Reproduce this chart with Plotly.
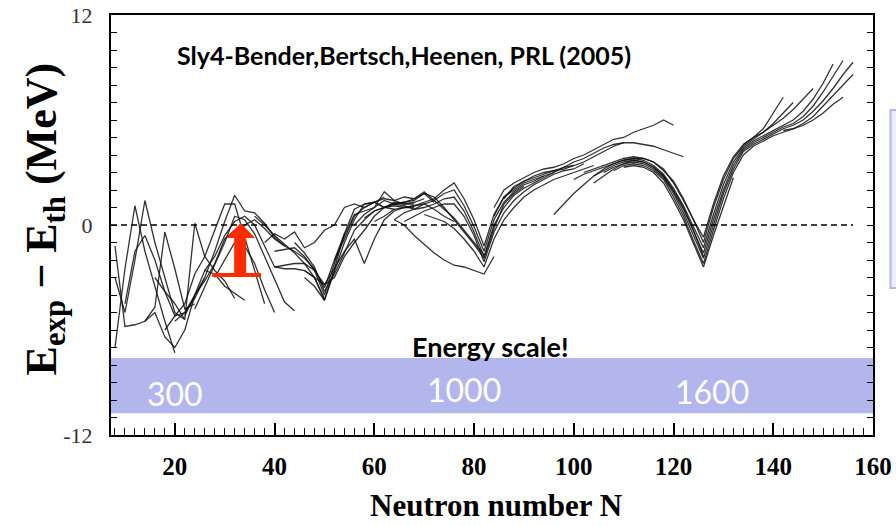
import plotly.graph_objects as go

# ---- data: E_exp - E_th (MeV) along isotopic chains vs neutron number N ----
light_chains = [
    ([8, 10, 12, 14, 16, 18, 20], [-7.0, -2.5, 1.1, -1.5, -3.5, -5.5, -7.3]),
    ([8, 10, 12, 14, 16, 18, 20, 22], [-3.0, -5.0, -2.0, 1.4, -1.0, -3.0, -5.0, -5.4]),
    ([8, 10, 12, 14, 16, 18, 20, 22, 24], [-1.2, -5.8, -5.7, -5.5, -4.7, -0.4, -2.5, -4.8, -4.5]),
    ([10, 12, 14, 16, 18, 20, 22, 24, 26], [-4.5, -1.5, -0.6, -2.0, -3.8, -5.2, -5.0, -4.0, -3.0]),
    ([16, 18, 20, 22, 24, 26, 28, 30, 32], [-3.0, -3.8, -4.5, -5.4, 0.1, -1.8, -2.6, -3.2, -4.2]),
    ([14, 16, 18, 20, 22, 24, 26, 28, 30, 32, 34], [-5.5, -5.0, -6.4, -7.0, -6.0, -4.0, -2.6, -2.8, -3.5, -3.9, -4.3]),
    ([18, 20, 22, 24, 26, 28, 30, 32, 34, 36, 38], [-6.0, -5.2, -4.5, -2.8, -1.8, -0.3, 1.2, 1.2, -0.7, -2.6, -4.5]),
    ([20, 22, 24, 26, 28, 30, 32, 34, 36, 38, 40, 42], [-5.5, -5.0, -4.2, -3.0, -1.5, 0.2, 1.7, 0.8, 0.7, 0.1, -0.7, -1.2]),
    ([22, 24, 26, 28, 30, 32, 34, 36, 38, 40], [-5.2, -4.0, -3.2, -2.2, -0.8, -0.3, -1.2, -2.2, -3.7, -5.0]),
    ([24, 26, 28, 30, 32, 34, 36, 38, 40, 42, 44], [-4.8, -3.5, -2.2, -1.0, 0.5, 0.3, -0.5, -1.8, -3.2, -4.4, -4.9]),
    ([26, 28, 30, 32, 34, 36, 38, 40, 42, 44, 46, 48, 50], [-2.6, -1.8, -0.6, 0.2, 0.5, 0.0, -1.2, -2.4, -2.5, -2.5, -2.6, -3.0, -4.2]),
    ([28, 30, 32, 34, 36, 38, 40, 42, 44, 46, 48, 50, 52, 54], [-3.0, -2.0, -1.0, 0.0, 0.3, -0.2, -0.8, -1.2, -1.5, -1.9, -2.5, -3.6, -2.0, -0.5]),
]

medium_chains = [
    ([36, 38, 40, 42, 44, 46, 48, 50, 52, 54, 56, 58, 60, 62, 64], [0.5, 0.0, -0.6, -1.1, -1.6, -2.2, -3.0, -4.3, -2.6, -1.0, 0.3, 1.2, 1.3, 1.0, 0.9]),
    ([40, 42, 44, 46, 48, 50, 52, 54, 56, 58, 60, 62, 64, 66, 68], [-1.5, -1.4, -1.3, -1.8, -2.6, -4.0, -2.2, -0.6, 0.6, 0.8, 1.0, 1.9, 1.4, 1.2, 1.2]),
    ([44, 46, 48, 50, 52, 54, 56, 58, 60, 62, 64, 66, 68, 70, 72], [-1.0, -1.6, -2.4, -3.8, -2.8, -1.6, -0.3, 0.3, 0.8, 1.0, 1.2, 1.3, 1.4, 1.8, 1.3]),
    ([46, 48, 50, 52, 54, 56, 58, 60, 62, 64, 66, 68], [-2.6, -3.0, -3.4, -2.5, -1.5, -0.8, -2.2, -0.8, 0.3, 0.8, 1.0, 1.0]),
    ([38, 40, 42, 44, 46, 48, 50, 52, 54, 56, 58, 60, 62], [-1.0, -0.5, -0.8, -0.4, -1.3, -1.0, -0.3, 0.0, 1.0, 1.2, 1.0, 1.3, 1.6]),
    ([40, 42, 44, 46, 48, 50, 52, 54, 56, 58, 60, 62, 64, 66, 68, 70], [-2.4, -2.3, -2.2, -2.2, -2.6, -3.4, -3.0, -1.8, -1.0, -0.3, 0.5, 1.0, 1.3, 1.2, 1.3, 1.5]),
]

n82_chains = [
    ([56, 58, 60, 62, 64, 66, 68, 70, 72, 74, 76, 78, 80, 82, 84, 86, 88, 90], [0.0, 0.6, 1.0, 1.4, 1.2, 1.3, 1.5, 1.8, 1.6, 1.0, 0.3, -0.4, -1.1, -1.9, -0.2, 1.2, 1.8, 2.2]),
    ([58, 60, 62, 64, 66, 68, 70, 72, 74, 76, 78, 80, 82, 84, 86, 88, 90, 92, 94], [0.4, 0.8, 1.0, 1.1, 1.0, 1.1, 1.3, 1.5, 2.0, 2.4, 1.5, 0.3, -1.2, 0.6, 1.6, 2.0, 2.4, 2.6, 2.8]),
    ([60, 62, 64, 66, 68, 70, 72, 74, 76, 78, 80, 82, 84, 86, 88, 90, 92, 94, 96], [0.2, 0.5, 0.9, 1.0, 1.1, 1.2, 1.4, 1.8, 2.0, 1.1, -0.1, -1.5, 0.3, 1.3, 1.9, 2.3, 2.5, 2.8, 3.0]),
    ([64, 66, 68, 70, 72, 74, 76, 78, 80, 82, 84, 86, 88, 90, 92, 94, 96, 98, 100], [0.3, 0.7, 0.9, 1.0, 1.2, 1.5, 1.6, 0.8, -0.4, -1.8, 0.0, 1.0, 1.7, 2.1, 2.4, 2.7, 3.0, 3.3, 3.4]),
    ([66, 68, 70, 72, 74, 76, 78, 80, 82, 84, 86, 88, 90, 92, 94, 96, 98, 100, 102], [0.2, 0.5, 0.8, 1.0, 1.2, 1.2, 0.5, -0.6, -2.1, -0.4, 0.7, 1.4, 1.9, 2.3, 2.6, 2.9, 3.1, 3.2, 3.5]),
    ([64, 66, 68, 70, 72, 74, 76, 78, 80, 82, 84], [0.3, 0.0, -0.6, -1.1, -1.6, -2.0, -2.3, -2.4, -2.6, -2.8, -1.8]),
    ([70, 72, 74, 76, 78, 80, 82, 84, 86, 88, 90, 92, 94, 96, 98, 100, 102, 104], [0.6, 0.4, 0.2, -0.2, -0.8, -1.5, -2.4, -0.8, 0.3, 1.0, 1.6, 2.0, 2.3, 2.6, 2.8, 3.0, 3.2, 3.4]),
    ([52, 54, 56, 58, 60, 62, 64, 66, 68, 70, 72, 74, 76, 78, 80, 82], [-2.0, -0.8, 0.5, 1.0, 1.3, 1.5, 1.4, 1.6, 1.5, 1.9, 1.4, 0.9, 0.4, -0.3, -1.0, -1.7]),
    ([46, 48, 50, 52, 54, 56, 58, 60, 62, 64, 66, 68, 70, 72, 74, 76], [-3.0, -3.5, -4.3, -2.5, -0.5, 0.9, 1.2, 1.3, 1.0, 1.2, 1.1, 0.9, 1.2, 0.9, 0.5, 0.2]),
]

upper_chains = [
    ([84, 86, 88, 90, 92, 94, 96, 98, 100, 102, 104, 106, 108, 110, 112, 114, 116, 118, 120], [1.0, 2.0, 2.4, 2.7, 3.0, 3.2, 3.3, 3.5, 3.8, 4.0, 4.3, 4.6, 4.9, 5.0, 5.3, 5.5, 5.7, 6.0, 5.7]),
    ([86, 88, 90, 92, 94, 96, 98, 100, 102, 104, 106, 108, 110, 112, 114, 116, 118, 120, 122], [1.5, 2.2, 2.5, 2.8, 3.0, 3.1, 3.3, 3.6, 3.8, 4.1, 4.4, 4.6, 4.7, 4.7, 4.6, 4.5, 4.3, 4.1, 3.9]),
    ([84, 86, 88, 90, 92, 94, 96, 98, 100, 102, 104, 106, 108, 110], [0.5, 1.6, 2.1, 2.5, 2.7, 2.9, 3.1, 3.2, 3.4, 3.6, 3.9, 4.2, 4.5, 4.7]),
    ([96, 98, 100, 102, 104, 106, 108, 110, 112, 114, 116, 118, 120, 122, 124, 126], [0.6, 1.2, 1.8, 2.3, 2.8, 3.1, 3.4, 3.6, 3.7, 3.6, 3.3, 2.8, 2.0, 1.0, -0.3, -1.8]),
]

n126_chains = [
    ([102, 104, 106, 108, 110, 112, 114, 116, 118, 120, 122, 124, 126, 128, 130, 132, 134, 136, 138, 140, 142], [3.0, 3.2, 3.4, 3.6, 3.8, 3.9, 3.8, 3.6, 3.2, 2.4, 1.4, 0.3, -0.7, 1.2, 2.8, 3.9, 4.6, 5.0, 5.5, 6.4, 7.3]),
    ([104, 106, 108, 110, 112, 114, 116, 118, 120, 122, 124, 126, 128, 130, 132, 134, 136, 138, 140, 142, 144], [2.8, 3.2, 3.5, 3.7, 3.8, 3.8, 3.6, 3.1, 2.5, 1.5, 0.3, -1.0, 1.0, 2.6, 3.8, 4.5, 4.9, 5.3, 5.8, 6.4, 7.0]),
    ([100, 102, 104, 106, 108, 110, 112, 114, 116, 118, 120, 122, 124, 126, 128, 130, 132, 134, 136, 138, 140, 142, 144, 146, 148, 150, 152], [2.6, 2.9, 3.1, 3.3, 3.5, 3.7, 3.8, 3.7, 3.4, 2.9, 2.1, 1.1, -0.1, -1.3, 0.6, 2.3, 3.6, 4.4, 4.8, 5.1, 5.4, 5.7, 6.0, 6.5, 7.2, 8.1, 9.2]),
    ([106, 108, 110, 112, 114, 116, 118, 120, 122, 124, 126, 128, 130, 132, 134, 136, 138, 140, 142, 144, 146, 148, 150, 152, 154], [3.0, 3.3, 3.5, 3.7, 3.6, 3.3, 2.8, 1.9, 0.9, -0.3, -1.6, 0.3, 2.0, 3.4, 4.3, 4.7, 5.0, 5.3, 5.6, 5.8, 6.2, 6.8, 7.6, 8.5, 9.4]),
    ([104, 106, 108, 110, 112, 114, 116, 118, 120, 122, 124, 126, 128, 130, 132, 134, 136, 138, 140, 142, 144, 146, 148, 150, 152, 154, 156], [2.4, 2.8, 3.2, 3.5, 3.6, 3.5, 3.2, 2.7, 1.8, 0.7, -0.6, -1.9, 0.0, 1.8, 3.2, 4.2, 4.6, 4.9, 5.2, 5.5, 5.7, 6.0, 6.5, 7.1, 7.8, 8.6, 9.3]),
    ([108, 110, 112, 114, 116, 118, 120, 122, 124, 126, 128, 130, 132, 134, 136, 138, 140, 142, 144, 146, 148, 150, 152, 154, 156], [3.1, 3.4, 3.5, 3.4, 3.1, 2.6, 1.6, 0.5, -0.9, -2.2, -0.3, 1.5, 3.0, 4.0, 4.5, 4.8, 5.1, 5.3, 5.5, 5.8, 6.2, 6.8, 7.4, 8.0, 8.6]),
    ([142, 144, 146, 148, 150, 152, 154], [5.4, 5.5, 5.7, 6.0, 6.4, 6.9, 7.3]),
    ([110, 112, 114, 116, 118, 120, 122, 124, 126, 128, 130, 132], [3.3, 3.4, 3.3, 3.0, 2.4, 1.4, 0.3, -1.0, -2.4, -0.6, 1.1, 2.7]),
    ([134, 136, 138, 140, 142, 144, 146, 148], [4.6, 5.0, 5.3, 5.7, 6.1, 6.6, 7.2, 7.8]),
]

x_ticks = [20, 40, 60, 80, 100, 120, 140, 160]
y_ticks = [-12, 0, 12]
band_labels = ["300", "1000", "1600"]

# ---- figure ----
X_RANGE = [7.2, 160]
Y_RANGE = [-12, 12]
SERIF = "Liberation Serif"
SANS = "Lato"

fig = go.Figure()
for group in (light_chains, medium_chains, n82_chains, upper_chains, n126_chains):
    for n_vals, e_vals in group:
        fig.add_trace(go.Scatter(
            x=n_vals, y=e_vals, mode="lines",
            line=dict(color="rgba(15,15,15,0.85)", width=1.3),
            showlegend=False, hoverinfo="skip",
        ))

shapes = [
    # energy-scale band
    dict(type="rect", xref="paper", yref="y", x0=0, x1=1, y0=-10.75, y1=-7.6,
         fillcolor="#b3b6ec", line=dict(width=0), layer="below"),
    # dashed zero line
    dict(type="line", xref="x", yref="y", x0=X_RANGE[0], x1=156, y0=0, y1=0,
         line=dict(color="black", width=1.6, dash="6px,4px")),
    # partially visible box at right edge
    dict(type="rect", xref="paper", yref="paper", x0=1.023, x1=1.2, y0=0.35, y1=0.774,
         fillcolor="#ededfb", line=dict(color="#b4b4ee", width=2)),
    # red arrow: base bar, shaft, head
    dict(type="rect", xref="x", yref="y", x0=27.5, x1=37.3, y0=-2.97, y1=-2.74,
         fillcolor="#ff2a00", line=dict(width=0)),
    dict(type="rect", xref="x", yref="y", x0=31.9, x1=34.3, y0=-2.8, y1=-0.7,
         fillcolor="#ff2a00", line=dict(width=0)),
    dict(type="path", xref="x", yref="y",
         path="M 30.3 -0.74 L 36.1 -0.74 L 33.2 0.12 Z",
         fillcolor="#ff2a00", line=dict(width=0)),
]

annotations = [
    dict(xref="paper", yref="paper", x=-0.087, y=0.515, textangle=-90,
         text="<b>E<sub>exp</sub> − E<sub>th</sub> (MeV)</b>", showarrow=False,
         font=dict(family=SERIF, size=44, color="black"), xanchor="center", yanchor="middle"),
    dict(xref="paper", yref="paper", x=0.505, y=-0.169,
         text="<b>Neutron number N</b>", showarrow=False,
         font=dict(family=SERIF, size=31, color="black"), xanchor="center", yanchor="middle"),
    dict(xref="paper", yref="paper", x=0.3845, y=0.905,
         text="<b>Sly4-Bender,Bertsch,Heenen, PRL (2005)</b>", showarrow=False,
         font=dict(family=SANS, size=25, color="black"), xanchor="center", yanchor="middle"),
    dict(xref="paper", yref="paper", x=0.497, y=0.21,
         text="<b>Energy scale!</b>", showarrow=False,
         font=dict(family=SANS, size=27, color="black"), xanchor="center", yanchor="middle"),
]
for lbl, px, py in zip(band_labels, [0.084, 0.463, 0.789], [0.1, 0.108, 0.104]):
    annotations.append(dict(xref="paper", yref="paper", x=px, y=py, text=lbl, showarrow=False,
                            font=dict(family=SANS, size=32, color="white"),
                            xanchor="center", yanchor="middle"))

fig.update_layout(
    width=896, height=526,
    margin=dict(l=111, r=23, t=15, b=91),
    paper_bgcolor="white", plot_bgcolor="white",
    shapes=shapes, annotations=annotations,
    xaxis=dict(
        range=X_RANGE, showgrid=False, zeroline=False, automargin=False,
        showline=True, linecolor="black", linewidth=2, mirror=True,
        ticks="inside", ticklen=12, tickwidth=1.5, tickcolor="black",
        tickvals=x_ticks, ticktext=[f"<b>{v}</b>" for v in x_ticks],
        tickfont=dict(family=SERIF, size=25, color="black"),
        ticklabelstandoff=8,
        minor=dict(dtick=2, tick0=0, ticks="inside", ticklen=7, tickwidth=1.2, tickcolor="black"),
    ),
    xaxis2=dict(
        range=X_RANGE, overlaying="x", anchor="y", side="bottom", automargin=False,
        showgrid=False, zeroline=False, showline=False, showticklabels=False,
        ticks="outside", ticklen=4, tickwidth=1.5, tickcolor="black", dtick=20, tick0=0,
        minor=dict(dtick=2, tick0=0, ticks="outside", ticklen=5, tickwidth=1.2, tickcolor="black"),
    ),
    xaxis3=dict(
        range=X_RANGE, overlaying="x", anchor="y", side="top", automargin=False,
        showgrid=False, zeroline=False, showline=False, showticklabels=False,
        ticks="inside", ticklen=8, tickwidth=1.3, tickcolor="black", dtick=20, tick0=0,
        minor=dict(dtick=2, tick0=0, ticks="inside", ticklen=5, tickwidth=1.1, tickcolor="black"),
    ),
    yaxis=dict(
        range=Y_RANGE, showgrid=False, zeroline=False, automargin=False,
        showline=True, linecolor="black", linewidth=2, mirror="ticks",
        ticks="inside", ticklen=6, tickwidth=1.3, tickcolor="black",
        tickvals=y_ticks, ticktext=[str(v) for v in y_ticks],
        tickfont=dict(family=SERIF, size=22, color="#333333"),
        ticklabelstandoff=12,
        minor=dict(dtick=1, tick0=0, ticks="inside", ticklen=6, tickwidth=1.2, tickcolor="black"),
    ),
)

fig.write_html("out.html")
